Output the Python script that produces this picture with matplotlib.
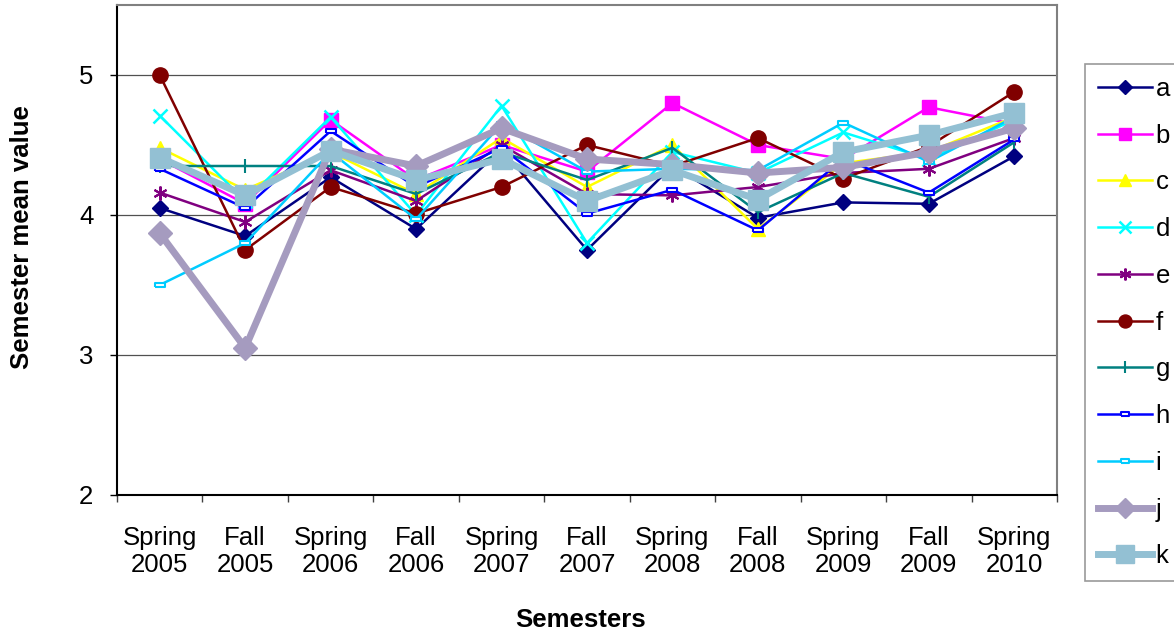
import numpy as np
import matplotlib
matplotlib.use('Agg')
import matplotlib.pyplot as plt

plt.rcParams['font.family'] = ['Liberation Sans', 'DejaVu Sans']

semesters = ['Spring\n2005', 'Fall\n2005', 'Spring\n2006', 'Fall\n2006', 'Spring\n2007', 'Fall\n2007',
             'Spring\n2008', 'Fall\n2008', 'Spring\n2009', 'Fall\n2009', 'Spring\n2010']

a = [4.05, 3.85, 4.27, 3.90, 4.47, 3.75, 4.35, 3.98, 4.09, 4.08, 4.42]
b = [4.40, 4.08, 4.68, 4.25, 4.50, 4.31, 4.80, 4.50, 4.40, 4.77, 4.65]
c = [4.48, 4.18, 4.45, 4.15, 4.55, 4.20, 4.50, 3.90, 4.37, 4.45, 4.70]
d = [4.71, 4.10, 4.70, 4.00, 4.78, 3.80, 4.45, 4.30, 4.59, 4.40, 4.68]
e = [4.16, 3.95, 4.32, 4.10, 4.50, 4.15, 4.14, 4.20, 4.30, 4.33, 4.55]
f = [5.00, 3.75, 4.20, 4.01, 4.20, 4.50, 4.35, 4.55, 4.26, 4.49, 4.88]
g = [4.35, 4.35, 4.35, 4.15, 4.45, 4.25, 4.48, 4.02, 4.30, 4.13, 4.52]
h = [4.33, 4.05, 4.60, 4.20, 4.48, 4.01, 4.18, 3.89, 4.40, 4.16, 4.54]
i = [3.50, 3.80, 4.45, 3.97, 4.65, 4.31, 4.33, 4.32, 4.66, 4.38, 4.70]
j = [3.87, 3.05, 4.47, 4.35, 4.62, 4.40, 4.36, 4.30, 4.34, 4.45, 4.62]
k = [4.41, 4.14, 4.46, 4.25, 4.40, 4.10, 4.32, 4.11, 4.45, 4.57, 4.73]

names = ['a', 'b', 'c', 'd', 'e', 'f', 'g', 'h', 'i', 'j', 'k']
series = [a, b, c, d, e, f, g, h, i, j, k]

dash = [(-1, -0.4), (1, -0.4), (1, 0.4), (-1, 0.4), (-1, -0.4)]
styles = [
    dict(color='#000080', marker='D', ms=8, lw=1.8),
    dict(color='#FF00FF', marker='s', ms=10, lw=1.8),
    dict(color='#FFFF00', marker='^', ms=10, lw=1.8),
    dict(color='#00FFFF', marker='x', ms=10, lw=1.8, mew=1.8),
    dict(color='#800080', marker=(6, 2, 0), ms=10, lw=1.8, mew=1.5),
    dict(color='#800000', marker='o', ms=11, lw=1.8),
    dict(color='#008080', marker='|', ms=10, lw=1.8, mew=1.5),
    dict(color='#0000FF', marker=dash, ms=7, lw=1.8, mfc='white', mew=1.5),
    dict(color='#00CCFF', marker=dash, ms=7, lw=1.8, mfc='white', mew=1.5),
    dict(color='#A59BBF', marker='D', ms=12, lw=5),
    dict(color='#93C0D3', marker='s', ms=15, lw=5),
]

fig = plt.figure(figsize=(11.74, 6.37), dpi=100)
ax = fig.add_axes([117 / 1174, 1 - 495 / 637, 940 / 1174, 490 / 637])

x = np.arange(len(semesters))
for name, vals, st in zip(names, series, styles):
    ax.plot(x, vals, label=name, **st)

ax.set_xlim(-0.5, len(semesters) - 0.5)
ax.set_ylim(2, 5.5)
ax.set_yticks([2, 3, 4, 5])
ax.yaxis.grid(True, color='#505050', lw=0.9)
ax.set_axisbelow(True)
ax.tick_params(axis='y', direction='out', length=5, width=1, pad=12, labelsize=18.5)

ax.set_xticks(np.arange(-0.5, len(semesters)), labels=[])
ax.set_xticks(x, labels=semesters, minor=True)
ax.tick_params(axis='x', which='major', direction='out', length=5, width=1, color='#404040')
ax.tick_params(axis='x', which='minor', length=0, pad=22, labelsize=18.5)

for s in ['left', 'bottom']:
    ax.spines[s].set_color('black')
    ax.spines[s].set_linewidth(1.5)
for s in ['top', 'right']:
    ax.spines[s].set_color('#808080')
    ax.spines[s].set_linewidth(1.5)

ax.set_ylabel('Semester mean value', fontsize=18.5, fontweight='bold')
ax.yaxis.set_label_coords(-0.088, 0.527)
ax.set_xlabel('Semesters', fontsize=18.5, fontweight='bold')
ax.xaxis.set_label_coords(0.4926, -0.231)

leg = fig.legend(loc='upper left', bbox_to_anchor=(1085 / 1174, 1 - 64 / 637), fontsize=18.5,
                 frameon=True, fancybox=False, edgecolor='#808080', borderpad=0.5,
                 labelspacing=0.885, handlelength=2.1, handletextpad=0.15, borderaxespad=0,
                 markerscale=0.85)
leg.get_frame().set_linewidth(1.2)

fig.savefig('out.png', dpi=100)
